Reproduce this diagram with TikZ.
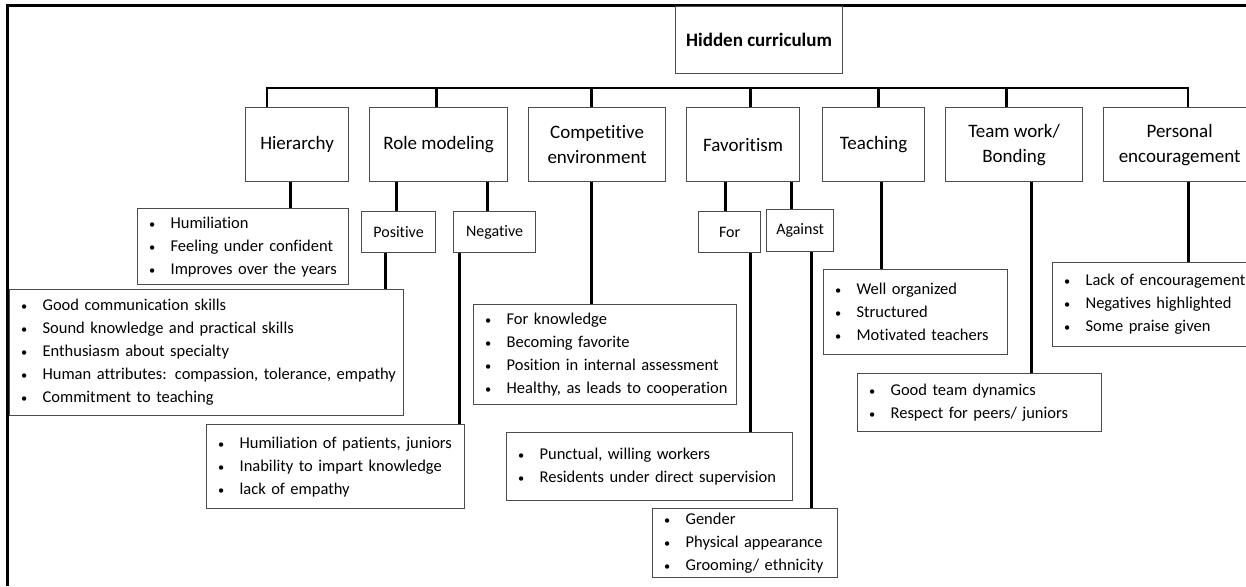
\documentclass[tikz,border=0pt]{standalone}
\usepackage{graphicx}
\usepackage{fontspec}
\setmainfont{Carlito}[Ligatures=NoCommon]
\newcommand\bi[1]{\mbox{\makebox[22pt][l]{\hspace{0.5pt}\scalebox{0.75}{\textbullet}}#1}}
\begin{document}
\begin{tikzpicture}[x=1pt,y=-1pt,
  conn/.style={line width=2.5pt},
  lbox/.style={draw=black!70, line width=1.2pt, inner sep=0pt, align=center,
    font=\fontsize{19pt}{25pt}\selectfont, anchor=north west},
  sbox/.style={lbox, font=\fontsize{16pt}{20pt}\selectfont},
  bbox/.style={draw=black!70, line width=1.2pt, inner xsep=11pt, inner ysep=0pt,
    align=left, font=\fontsize{16.5pt}{23pt}\selectfont, anchor=north west}]
\useasboundingbox (0,0) rectangle (1246,586);
% frame
\draw[line width=3pt] (7,586) -- (7,6) -- (1246,6);
% root
\node[lbox, minimum width=167pt, minimum height=67pt, font=\fontsize{19pt}{25pt}\selectfont\bfseries] (root) at (675,6) {Hidden curriculum};
% level 1
\node[lbox, minimum width=103pt, minimum height=74pt] (hier) at (245,107) {Hierarchy};
\node[lbox, minimum width=138pt, minimum height=74pt] (role) at (369,107) {Role modeling};
\node[lbox, minimum width=137pt, minimum height=74pt] (comp) at (528,107) {Competitive\\environment};
\node[lbox, minimum width=113pt, minimum height=74pt] (fav) at (686,107) {Favoritism};
\node[lbox, minimum width=102pt, minimum height=74pt] (teach) at (822,107) {Teaching};
\node[lbox, minimum width=137pt, minimum height=74pt] (team) at (945,107) {Team work/\\Bonding};
\node[lbox, minimum width=152pt, minimum height=74pt] (pers) at (1103,107) {Personal\\encouragement};
% sub labels
\node[sbox, minimum width=74pt, minimum height=41pt] (pos) at (361,211) {Positive};
\node[sbox, minimum width=82pt, minimum height=41pt] (neg) at (453,211) {Negative};
\node[sbox, minimum width=62pt, minimum height=41pt] (for) at (698,211) {For};
\node[sbox, minimum width=67pt, minimum height=42pt] (against) at (766,209) {Against};
% bullet boxes
\node[bbox, minimum width=211pt, minimum height=76pt, text width=189pt] (hbul) at (137,208)
  {\bi{Humiliation}\\\bi{Feeling under confident}\\\bi{Improves over the years}};
\node[bbox, minimum width=394pt, minimum height=126pt, text width=372pt] (posbul) at (9,289)
  {\bi{Good communication skills}\\\bi{Sound knowledge and practical skills}\\\bi{Enthusiasm about specialty}\\\bi{Human attributes: compassion, tolerance, empathy}\\\bi{Commitment to teaching}};
\node[bbox, minimum width=258pt, minimum height=84pt, text width=236pt] (negbul) at (206,424)
  {\bi{Humiliation of patients, juniors}\\\bi{Inability to impart knowledge}\\\bi{lack of empathy}};
\node[bbox, minimum width=263pt, minimum height=100pt, text width=241pt] (compbul) at (473,304)
  {\bi{For knowledge}\\\bi{Becoming favorite}\\\bi{Position in internal assessment}\\\bi{Healthy, as leads to cooperation}};
\node[bbox, minimum width=286pt, minimum height=68pt, text width=264pt] (forbul) at (506,432)
  {\bi{Punctual, willing workers}\\\bi{Residents under direct supervision}};
\node[bbox, minimum width=185pt, minimum height=69pt, text width=163pt] (agbul) at (652,508)
  {\bi{Gender}\\\bi{Physical appearance}\\\bi{Grooming/ ethnicity}};
\node[bbox, minimum width=184pt, minimum height=85pt, text width=162pt] (teachbul) at (823,269)
  {\bi{Well organized}\\\bi{Structured}\\\bi{Motivated teachers}};
\node[bbox, minimum width=244pt, minimum height=58pt, text width=222pt] (teambul) at (857,373)
  {\bi{Good team dynamics}\\\bi{Respect for peers/ juniors}};
\node[bbox, minimum width=203pt, minimum height=84pt, text width=181pt] (persbul) at (1052,262)
  {\bi{Lack of encouragement}\\\bi{Negatives highlighted}\\\bi{Some praise given}};
% bus
\coordinate (busL) at (267,88);
\coordinate (busR) at (1188,88);
\draw[conn] (hier.north -| busL) -- (busL) -- (busR) -- (pers.north -| busR);
\draw[conn] ([xshift=-2pt]role.north) -- ([xshift=-2pt]role.north |- busL);
\draw[conn] ([xshift=-5.5pt]comp.north) -- ([xshift=-5.5pt]comp.north |- busL);
\draw[conn] ([xshift=7.5pt]fav.north) -- ([xshift=7.5pt]fav.north |- busL);
\draw[conn] ([xshift=5pt]teach.north) -- ([xshift=5pt]teach.north |- busL);
\draw[conn] ([xshift=-7.5pt]team.north) -- ([xshift=-7.5pt]team.north |- busL);
% sub connectors
\draw[conn] ([xshift=-6.5pt]hier.south) -- ([xshift=-6.5pt]hier.south |- hbul.north);
\draw[conn] ([xshift=-42pt]role.south) -- ([xshift=-42pt]role.south |- pos.north);
\draw[conn] ([xshift=49pt]role.south) -- ([xshift=49pt]role.south |- neg.north);
\draw[conn] ([xshift=-13pt]pos.south) -- ([xshift=-13pt]pos.south |- posbul.north);
\draw[conn] ([xshift=-35pt]neg.south) -- ([xshift=-35pt]neg.south |- negbul.north);
\draw[conn] ([xshift=-5.5pt]comp.south) -- ([xshift=-5.5pt]comp.south |- compbul.north);
\draw[conn] ([xshift=-17.5pt]fav.south) -- ([xshift=-17.5pt]fav.south |- for.north);
\draw[conn] ([xshift=48.5pt]fav.south) -- ([xshift=48.5pt]fav.south |- against.north);
\draw[conn] ([xshift=21pt]for.south) -- ([xshift=21pt]for.south |- forbul.north);
\draw[conn] ([xshift=11.5pt]against.south) -- ([xshift=11.5pt]against.south |- agbul.north);
\draw[conn] ([xshift=8pt]teach.south) -- ([xshift=8pt]teach.south |- teachbul.north);
\draw[conn] ([xshift=17.5pt]team.south) -- ([xshift=17.5pt]team.south |- teambul.north);
\draw[conn] ([xshift=9pt]pers.south) -- ([xshift=9pt]pers.south |- persbul.north);
\end{tikzpicture}
\end{document}
